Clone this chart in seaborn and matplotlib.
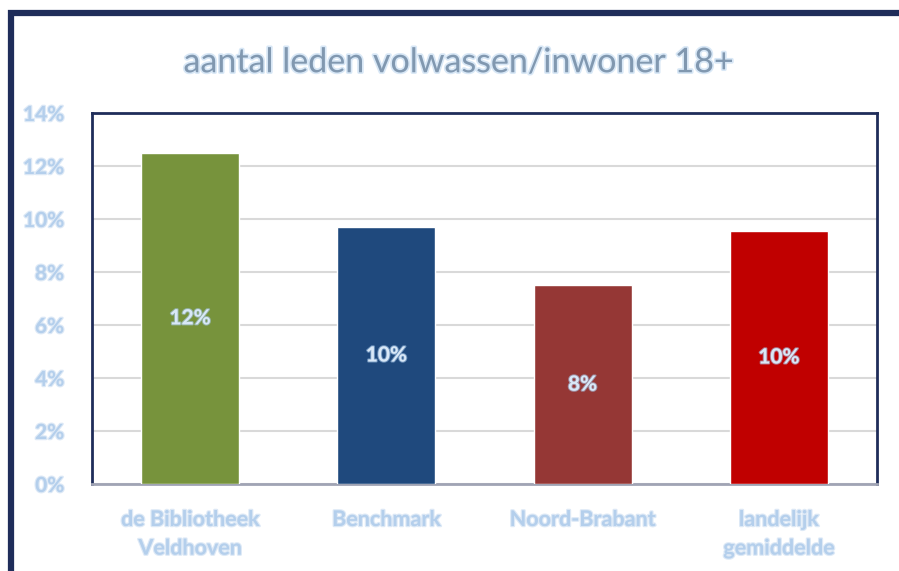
import matplotlib
matplotlib.use('Agg')
import matplotlib.pyplot as plt
import matplotlib.patheffects as pe
from matplotlib.patches import Rectangle
from matplotlib.ticker import PercentFormatter
import pandas as pd
import seaborn as sns

# data
categories = ['de Bibliotheek\nVeldhoven', 'Benchmark', 'Noord-Brabant', 'landelijk\ngemiddelde']
values = [12.5, 9.7, 7.5, 9.55]
bar_labels = ['12%', '10%', '8%', '10%']
bar_colors = ['#77933C', '#1F497D', '#953735', '#C00000']
title = 'aantal leden volwassen/inwoner 18+'

sns.set_style('white')
plt.rcParams['font.family'] = ['Lato', 'DejaVu Sans']

df = pd.DataFrame({'cat': categories, 'val': values})

fig = plt.figure(figsize=(8.99, 5.71), dpi=100)
ax = fig.add_axes([0.1023, 0.1524, 0.8732, 0.6497])

sns.barplot(data=df, x='cat', y='val', hue='cat', palette=bar_colors,
            width=0.5, saturation=1, legend=False, ax=ax, zorder=3)

ax.set_ylim(0, 14)
ax.set_yticks(range(0, 15, 2))
ax.yaxis.set_major_formatter(PercentFormatter(decimals=0))
ax.set_xlabel('')
ax.set_ylabel('')
ax.grid(axis='y', color='#D9D9D9', linewidth=1.5, zorder=0)
ax.set_axisbelow(True)

for side in ['left', 'top', 'right']:
    ax.spines[side].set_color('#1F2D5A')
    ax.spines[side].set_linewidth(2)
ax.spines['bottom'].set_color('#A0A4B4')
ax.spines['bottom'].set_linewidth(2)

glow = [pe.withStroke(linewidth=1.8, foreground='#CFE0F3', alpha=0.7)]
tick_color = '#B4CFEC'
ax.tick_params(axis='y', length=0, pad=20, labelsize=15, labelcolor=tick_color)
ax.tick_params(axis='x', length=0, pad=18, labelsize=15.5, labelcolor=tick_color)
for lbl in ax.get_yticklabels() + ax.get_xticklabels():
    lbl.set_fontweight('bold')
    lbl.set_path_effects(glow)
    lbl.set_linespacing(1.45)

for i, (v, t) in enumerate(zip(values, bar_labels)):
    ax.text(i, v / 2, t, ha='center', va='center', fontsize=15, fontweight='bold',
            color='#D9E8F7', path_effects=[pe.withStroke(linewidth=1.5, foreground='#A9C9EA', alpha=0.6)],
            zorder=5)

fig.text(0.51, 0.891, title, ha='center', va='center', fontsize=24.5,
         fontweight='normal', color='#8198B0',
         path_effects=[pe.withStroke(linewidth=2.5, foreground='#CFE2F4', alpha=0.8)])

# outer chart frame (runs off the right and bottom edge)
fig.patches.append(Rectangle((11 / 899, -0.1), 1.2, 1 - 13 / 571 + 0.1,
                             transform=fig.transFigure, fill=False,
                             edgecolor='#1F2D5A', linewidth=4.5, zorder=10))

fig.savefig('out.png', dpi=100)
